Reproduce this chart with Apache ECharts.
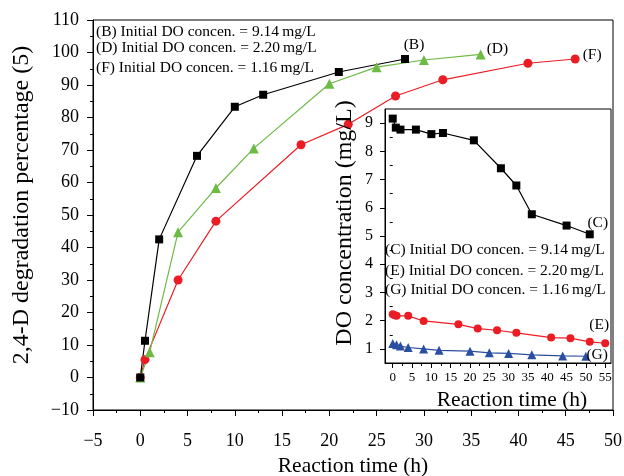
<!DOCTYPE html>
<html><head><meta charset="utf-8">
<script src="https://cdn.jsdelivr.net/npm/echarts@6/dist/echarts.min.js"></script>
<style>html,body{margin:0;padding:0;background:#fff}#c{width:624px;height:476px}</style>
</head><body><div id="c"></div>
<script>
// Main chart: 2,4-D degradation (%)
const bTime = [0, 0.5, 2, 6, 10, 13, 21, 28];
const bDeg  = [0, 11.3, 42.5, 68.2, 83.3, 87.0, 94.0, 98.0];
const dTime = [0, 1, 4, 8, 12, 20, 25, 30, 36];
const dDeg  = [0, 7.8, 44.7, 58.3, 70.5, 90.4, 95.5, 97.7, 99.4];
const fTime = [0, 0.5, 4, 8, 17, 22, 27, 32, 41, 46];
const fDeg  = [0, 5.5, 30.0, 48.1, 71.6, 77.9, 86.6, 91.6, 96.7, 98.0];
// Inset: DO concentration (mg/L)
const cTime = [0, 0.8, 2, 6, 10, 13, 21, 28, 32, 36, 45, 51];
const cDO   = [9.16, 8.84, 8.77, 8.77, 8.61, 8.65, 8.39, 7.40, 6.79, 5.77, 5.37, 5.06];
const eTime = [0, 0.5, 1, 4, 8, 17, 22, 27, 32, 41, 46, 51, 55];
const eDO   = [2.23, 2.19, 2.17, 2.17, 1.99, 1.87, 1.72, 1.66, 1.57, 1.40, 1.38, 1.25, 1.20];
const gTime = [0, 1, 2, 4, 8, 12, 20, 25, 30, 36, 44, 50];
const gDO   = [1.19, 1.15, 1.10, 1.05, 1.00, 0.95, 0.92, 0.86, 0.84, 0.79, 0.75, 0.74];
// Tick labels
const mainXTicks = [-5, 0, 5, 10, 15, 20, 25, 30, 35, 40, 45, 50];
const mainYTicks = [-10, 0, 10, 20, 30, 40, 50, 60, 70, 80, 90, 100, 110];
const insetXTicks = [0, 5, 10, 15, 20, 25, 30, 35, 40, 45, 50, 55];
const insetXMinor = [2.5, 7.5, 12.5, 17.5, 22.5, 27.5, 32.5, 37.5, 42.5, 47.5, 52.5];
const insetYTicks = [1, 2, 3, 4, 5, 6, 7, 8, 9];
const insetYMinor = [1.5, 2.5, 3.5, 4.5, 5.5, 6.5, 7.5, 8.5];
const mainLegend = ['(B) Initial DO concen. = 9.14\u2009mg/L', '(D) Initial DO concen. = 2.20\u2009mg/L', '(F) Initial DO concen. = 1.16\u2009mg/L'];
const insetLegend = ['(C) Initial DO concen. = 9.14\u2009mg/L', '(E) Initial DO concen. = 2.20\u2009mg/L', '(G) Initial DO concen. = 1.16\u2009mg/L'];

const FF = 'Liberation Serif';
const BLACK = '#000', GREEN = '#6dba45', RED = '#ec1c24', BLUE = '#2b4fa0';

function pts(xs, ys, tag, lab) {
  return xs.map((x, i) => {
    if (i === xs.length - 1 && tag) {
      return { value: [x, ys[i]], label: Object.assign({ show: true, formatter: tag, color: '#000', fontSize: 15.5, fontFamily: FF }, lab) };
    }
    return [x, ys[i]];
  });
}
function ser(name, xs, ys, sym, size, color, tag, lab, inset) {
  return {
    name, type: 'line', data: pts(xs, ys, tag, lab),
    xAxisIndex: inset ? 1 : 0, yAxisIndex: inset ? 1 : 0,
    symbol: sym, symbolSize: size, showSymbol: true,
    lineStyle: { color, width: 1.2 }, itemStyle: { color },
    z: inset ? 10 : 2, animation: false
  };
}
const axisFont = { color: '#000', fontFamily: FF };
const chart = echarts.init(document.getElementById('c'));
chart.setOption({
  animation: false,
  backgroundColor: '#fff',
  grid: [
    { left: 93, top: 20, right: 11, bottom: 66, show: true, borderColor: '#000', borderWidth: 1, z: 0,
      containLabel: false, outerBoundsMode: 'none' },
    { left: 385, top: 109, right: 13, bottom: 113, show: true, backgroundColor: '#fff', borderColor: '#000', borderWidth: 1, z: 5,
      containLabel: false, outerBoundsMode: 'none' }
  ],
  xAxis: [
    { gridIndex: 0, type: 'value', position: 'bottom', min: mainXTicks[0], max: mainXTicks[mainXTicks.length - 1], interval: 5,
      axisLine: { onZero: false, lineStyle: { color: '#000' } },
      axisTick: { length: 6, lineStyle: { color: '#000' } },
      minorTick: { show: true, splitNumber: 2, length: 3, lineStyle: { color: '#000' } },
      splitLine: { show: false },
      axisLabel: Object.assign({ fontSize: 18, margin: 22, formatter: v => String(v).replace('-', '\u2212') }, axisFont),
      name: 'Reaction time (h)', nameLocation: 'middle', nameGap: 45,
      nameTextStyle: Object.assign({ fontSize: 21.5 }, axisFont) },
    { gridIndex: 1, type: 'value', position: 'bottom', min: -2, max: 56.5, z: 6,
      axisLine: { onZero: false, lineStyle: { color: '#000' } },
      axisTick: { customValues: insetXTicks, length: 5, lineStyle: { color: '#000' } },
      splitLine: { show: false },
      axisLabel: Object.assign({ customValues: insetXTicks, fontSize: 13, margin: 8 }, axisFont),
      name: 'Reaction time (h)', nameLocation: 'middle', nameGap: 22,
      nameTextStyle: Object.assign({ fontSize: 21.5, padding: [0, 0, 0, 28] }, axisFont) },
    { gridIndex: 1, type: 'value', position: 'bottom', min: -2, max: 56.5, z: 6,
      axisLine: { show: false }, axisLabel: { show: false }, splitLine: { show: false },
      axisTick: { customValues: insetXMinor, length: 3, lineStyle: { color: '#000' } } }
  ],
  yAxis: [
    { gridIndex: 0, type: 'value', position: 'left', min: mainYTicks[0], max: mainYTicks[mainYTicks.length - 1], interval: 10,
      axisLine: { show: true, onZero: false, lineStyle: { color: '#000' } },
      axisTick: { show: true, length: 6, lineStyle: { color: '#000' } },
      minorTick: { show: true, splitNumber: 2, length: 3, lineStyle: { color: '#000' } },
      splitLine: { show: false },
      axisLabel: Object.assign({ fontSize: 18, margin: 14, formatter: v => String(v).replace('-', '\u2212') }, axisFont),
      name: '2,4-D degradation percentage (5)', nameLocation: 'middle', nameGap: 59,
      nameTextStyle: Object.assign({ fontSize: 24, padding: [0, 0, 0, 20] }, axisFont) },
    { gridIndex: 1, type: 'value', position: 'left', min: 0.5, max: 9.5, z: 6,
      axisLine: { show: true, onZero: false, lineStyle: { color: '#000' } },
      axisTick: { show: true, customValues: insetYTicks, length: 5, lineStyle: { color: '#000' } },
      splitLine: { show: false },
      axisLabel: Object.assign({ customValues: insetYTicks, fontSize: 16, margin: 12 }, axisFont),
      name: 'DO concentration (mg/L)', nameLocation: 'middle', nameGap: 28,
      nameTextStyle: Object.assign({ fontSize: 24, padding: [0, 0, 0, 26] }, axisFont) },
    { gridIndex: 1, type: 'value', position: 'left', min: 0.5, max: 9.5, z: 6,
      axisLine: { show: false }, axisLabel: { show: false }, splitLine: { show: false },
      axisTick: { show: true, customValues: insetYMinor, length: 3, lineStyle: { color: '#000' } } }
  ],
  series: [
    ser('F', fTime, fDeg, 'circle', 9, RED, '(F)', { position: 'right', offset: [-2, -4] }, false),
    ser('D', dTime, dDeg, 'triangle', 10, GREEN, '(D)', { position: 'right', offset: [-4, -6] }, false),
    ser('B', bTime, bDeg, 'rect', 8, BLACK, '(B)', { position: 'top', offset: [9, 3] }, false),
    ser('E', eTime, eDO, 'circle', 8, RED, '(E)', { position: 'top', offset: [-6, -1] }, true),
    ser('G', gTime, gDO, 'triangle', 9, BLUE, '(G)', { position: 'right', offset: [-9, -1] }, true),
    ser('C', cTime, cDO, 'rect', 8, BLACK, '(C)', { position: 'top', offset: [8, 6] }, true)
  ],
  graphic: [
    ...mainLegend.map((t, i) => ({ type: 'text', x: 96, y: [31.7, 48.3, 68.3][i], z: 20,
      style: { text: t, fill: '#000', font: '15.5px "Liberation Serif"', verticalAlign: 'middle' } })),
    ...insetLegend.map((t, i) => ({ type: 'text', x: 385, y: [250, 270.7, 290][i], z: 20,
      style: { text: t, fill: '#000', font: '15.5px "Liberation Serif"', verticalAlign: 'middle' } }))
  ]
});
</script></body></html>
